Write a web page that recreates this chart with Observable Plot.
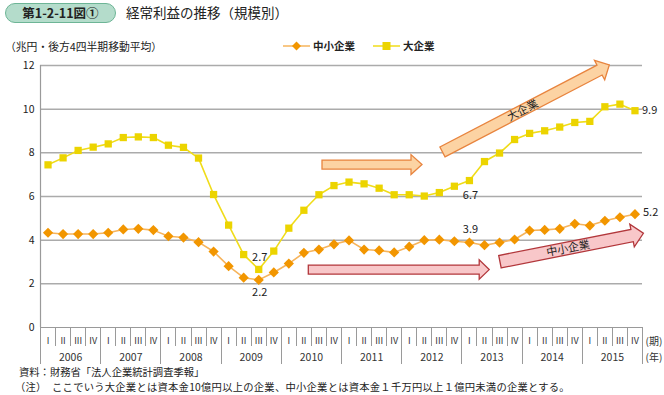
<!DOCTYPE html>
<html><head><meta charset="utf-8">
<script src="https://cdn.jsdelivr.net/npm/d3@7"></script>
<script src="https://cdn.jsdelivr.net/npm/@observablehq/plot@0.6"></script>
<style>
body{margin:0;background:#fff;font-family:"Noto Sans CJK JP","Noto Sans",sans-serif;color:#222}
#wrap{position:relative;width:664px;height:395px;overflow:hidden;background:#fff}
.badge{position:absolute;left:5px;top:3px;width:111px;height:20px;border:1.5px solid #6db596;background:#b4dccb;border-radius:10px;box-sizing:border-box;font-size:12.5px;font-weight:bold;line-height:17px;text-align:center;color:#222}
.title{position:absolute;left:126px;top:3px;font-size:13.5px;line-height:19px}
.unit{position:absolute;left:5px;top:39px;font-size:10.8px;line-height:14px}
.legend{position:absolute;left:283px;top:39px;font-size:10.5px;line-height:14px;display:flex;align-items:center;font-weight:bold}
.legend span.t{margin-right:18px;margin-left:3px}
#chart{position:absolute;left:0;top:55px}
.src{position:absolute;left:19px;top:366px;font-size:10.3px;line-height:12px;white-space:nowrap}
.note{position:absolute;left:15px;top:381px;font-size:10.3px;line-height:12px;white-space:nowrap;letter-spacing:0.25px}
</style></head>
<body>
<div id="wrap">
  <div class="badge">第1-2-11図①</div>
  <div class="title">経常利益の推移（規模別）</div>
  <div class="unit">（兆円・後方4四半期移動平均）</div>
  <div class="legend" id="legend"></div>
  <div id="chart"></div>
  <div class="src">資料：財務省「法人企業統計調査季報」</div>
  <div class="note">（注）　ここでいう大企業とは資本金10億円以上の企業、中小企業とは資本金１千万円以上１億円未満の企業とする。</div>
</div>
<script>
const years = ["2006","2007","2008","2009","2010","2011","2012","2013","2014","2015"];
const quarterNames = ["I","II","III","IV"];
const smeLabel = "中小企業";
const largeLabel = "大企業";
const smeValues = [4.34,4.28,4.28,4.28,4.34,4.49,4.52,4.46,4.18,4.12,3.91,3.48,2.81,2.28,2.18,2.52,2.93,3.42,3.57,3.81,3.99,3.57,3.53,3.44,3.70,4.00,4.02,3.95,3.89,3.77,3.89,4.03,4.44,4.47,4.52,4.75,4.67,4.89,5.05,5.19];
const largeValues = [7.45,7.77,8.11,8.26,8.41,8.70,8.73,8.70,8.35,8.25,7.76,6.09,4.69,3.34,2.66,3.50,4.55,5.37,6.08,6.50,6.66,6.58,6.38,6.08,6.08,6.02,6.18,6.47,6.73,7.60,7.99,8.61,8.89,9.01,9.18,9.39,9.44,10.11,10.23,9.93];
const yTicks = [0,2,4,6,8,10,12];
const periodLabel = "(期)";
const yearLabel = "(年)";

const C = {
  smeLine:"#f6b45c", smeDot:"#f29600",
  largeLine:"#f0dc1a", largeDot:"#ecd400",
  grid:"#ababab", axis:"#9a9a9a",
  oFill:"#fcd3a3", oStroke:"#e8843e",
  rFill:"#f8c7c9", rStroke:"#b2373b"
};

// legend
const leg = document.getElementById("legend");
function legItem(color, lineColor, sym, label){
  const w = 27;
  const shape = sym === "diamond"
    ? `<path d="M${w/2},${7-4.5}L${w/2+4.5},7L${w/2},${7+4.5}L${w/2-4.5},7Z" fill="${color}"/>`
    : `<rect x="${w/2-4}" y="3" width="8" height="8" fill="${color}"/>`;
  leg.insertAdjacentHTML("beforeend",
    `<svg width="${w}" height="14"><line x1="0" x2="${w}" y1="7" y2="7" stroke="${lineColor}" stroke-width="1.5"/>${shape}</svg><span class="t">${label}</span>`);
}
legItem(C.smeDot, C.smeLine, "diamond", smeLabel);
legItem(C.largeDot, C.largeLine, "square", largeLabel);

const rows = smeValues.map((v,i)=>({i:i+1, sme:v, large:largeValues[i]}));
const qRows = years.flatMap((y,yi)=>quarterNames.map((q,qi)=>({i:yi*4+qi+1, q})));
const yRows = years.map((y,yi)=>({c:yi*4+2.5, y}));

function xAxisDecor(index, scales){
  const x = scales.x, y = scales.y;
  const g = d3.create("svg:g").attr("stroke", C.axis).attr("stroke-width", 1);
  const y0 = y(0);
  for (let k = 0; k <= 40; k++) {
    const px = Math.round(x(k + 0.5)) + 0.5;
    const long = k % 4 === 0;
    g.append("line").attr("x1", px).attr("x2", px).attr("y1", y0).attr("y2", y0 + (long ? 37 : 19));
  }
  return g.node();
}

function blockArrow(g, x, y, a){
  const p0 = [x(a.x0), y(a.y0)], p1 = [x(a.x1), y(a.y1)];
  const dx = p1[0]-p0[0], dy = p1[1]-p0[1], L = Math.hypot(dx,dy);
  const u = [dx/L, dy/L], n = [-u[1], u[0]];
  const b = [p1[0]-u[0]*a.hl, p1[1]-u[1]*a.hl];
  const P = (p, s) => [p[0]+n[0]*s, p[1]+n[1]*s];
  const pts = [P(p0,a.w), P(b,a.w), P(b,a.hw), p1, P(b,-a.hw), P(b,-a.w), P(p0,-a.w)];
  g.append("path").attr("d", "M" + pts.map(p=>p[0].toFixed(1)+","+p[1].toFixed(1)).join("L") + "Z")
    .attr("fill", a.fill).attr("stroke", a.stroke).attr("stroke-width", 1.3).attr("stroke-linejoin","miter");
  if (a.label) {
    const t = a.t;
    const cx = p0[0] + dx*t, cy = p0[1] + dy*t;
    const ang = Math.atan2(dy, dx) * 180 / Math.PI;
    g.append("text").attr("transform", `translate(${cx},${cy}) rotate(${ang})`)
      .attr("text-anchor","middle").attr("dy","0.35em")
      .attr("font-size", 11).attr("fill", "#222").text(a.label);
  }
}

function arrowsMark(index, scales){
  const x = scales.x, y = scales.y;
  const g = d3.create("svg:g");
  blockArrow(g, x, y, {x0:19.24, y0:7.44, x1:25.88, y1:7.44, w:4.5, hw:10, hl:11, fill:C.oFill, stroke:C.oStroke});
  blockArrow(g, x, y, {x0:27.24, y0:8.02, x1:38.33, y1:12.0, w:5.5, hw:11, hl:11, fill:C.oFill, stroke:C.oStroke, label:largeLabel, t:0.48});
  blockArrow(g, x, y, {x0:18.33, y0:2.63, x1:30.35, y1:2.63, w:4.5, hw:9.7, hl:10, fill:C.rFill, stroke:C.rStroke});
  blockArrow(g, x, y, {x0:31.06, y0:2.99, x1:40.59, y1:4.29, w:6.3, hw:11.6, hl:11.5, fill:C.rFill, stroke:C.rStroke, label:smeLabel, t:0.475});
  return g.node();
}

const fmt = v => v.toFixed(1);
const chart = Plot.plot({
  width: 664, height: 313,
  marginLeft: 40, marginRight: 22, marginTop: 10, marginBottom: 41,
  style: {fontFamily: '"Noto Sans CJK JP","Noto Sans",sans-serif', fontSize: "10.5px", color: "#222", background: "transparent", overflow: "visible"},
  x: {domain: [0.5, 40.5], axis: null},
  y: {domain: [0, 12], ticks: yTicks, tickSize: 0, tickPadding: 6, label: null, tickFormat: d => String(d)},
  marks: [
    Plot.ruleY(yTicks.filter(d => d > 0), {stroke: C.grid, strokeWidth: 1.5}),
    Plot.ruleY([0], {stroke: C.axis, strokeWidth: 1.2}),
    Plot.ruleX([0.5], {y1: 0, y2: 12, stroke: C.axis, strokeWidth: 1.2}),
    xAxisDecor,
    arrowsMark,
    Plot.line(rows, {x: "i", y: "large", stroke: C.largeLine, strokeWidth: 1.6}),
    Plot.dot(rows, {x: "i", y: "large", symbol: "square", r: 4.1, fill: C.largeDot, stroke: "none"}),
    Plot.line(rows, {x: "i", y: "sme", stroke: C.smeLine, strokeWidth: 1.6}),
    Plot.dot(rows, {x: "i", y: "sme", symbol: "diamond2", r: 4.6, fill: C.smeDot, stroke: "none"}),
    // value labels
    Plot.text([rows[14]], {x: "i", y: "large", text: d => fmt(d.large), dy: -12, dx: 1, fontSize: 11}),
    Plot.text([rows[14]], {x: "i", y: "sme", text: d => fmt(d.sme), dy: 13, dx: 1, fontSize: 11}),
    Plot.text([rows[28]], {x: "i", y: "large", text: d => fmt(d.large), dy: 15, dx: 1, fontSize: 11}),
    Plot.text([rows[28]], {x: "i", y: "sme", text: d => fmt(d.sme), dy: -13, dx: 1, fontSize: 11}),
    Plot.text([rows[39]], {x: "i", y: "large", text: d => fmt(d.large), dx: 7, textAnchor: "start", fontSize: 11}),
    Plot.text([rows[39]], {x: "i", y: "sme", text: d => fmt(d.sme), dx: 8, dy: -2, textAnchor: "start", fontSize: 11}),
    // x axis labels
    Plot.text(qRows, {x: "i", y: () => 0, text: "q", dy: 14, fontSize: 9, fill: "#333"}),
    Plot.text(yRows, {x: "c", y: () => 0, text: "y", dy: 30, fontSize: 10.5, fill: "#333"}),
    Plot.text([periodLabel], {x: () => 40.5, y: () => 0, text: d => d, dy: 14, dx: 3, textAnchor: "start", fontSize: 10, fill: "#333"}),
    Plot.text([yearLabel], {x: () => 40.5, y: () => 0, text: d => d, dy: 30, dx: 3, textAnchor: "start", fontSize: 10, fill: "#333"})
  ]
});
document.getElementById("chart").appendChild(chart);
</script>
</body></html>
